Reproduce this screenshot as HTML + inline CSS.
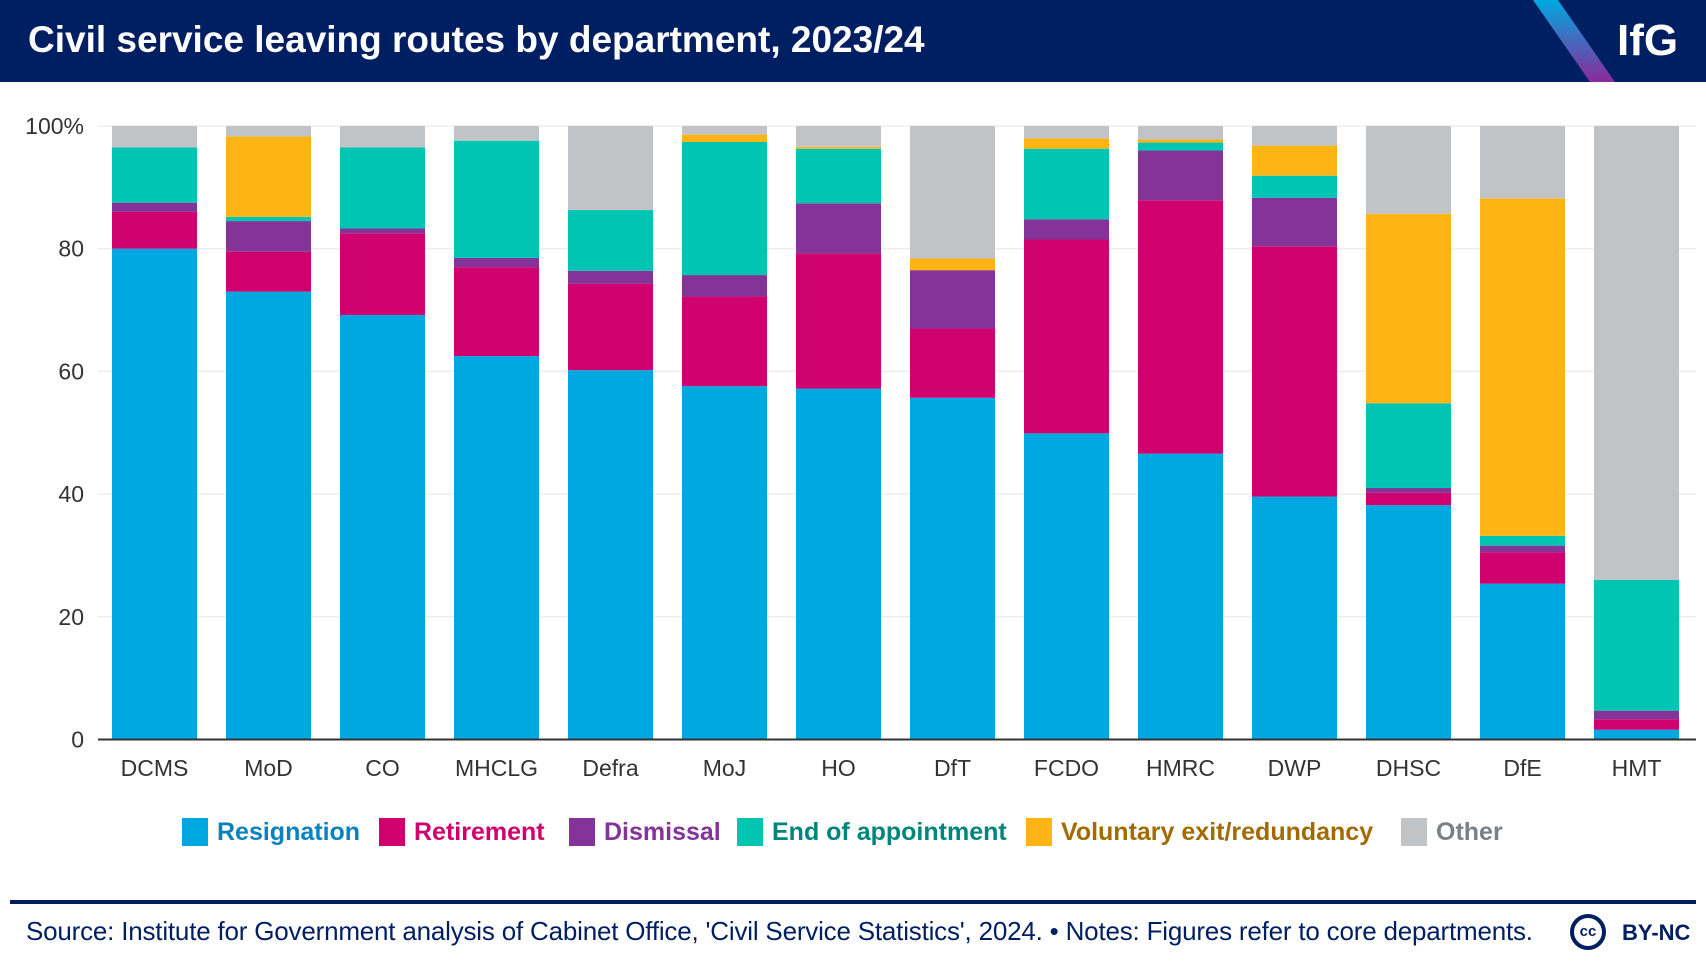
<!DOCTYPE html>
<html><head><meta charset="utf-8"><style>
body{margin:0;width:1706px;height:974px;background:#fff;font-family:"Liberation Sans",sans-serif;overflow:hidden;position:relative}
#hdr{position:absolute;left:0;top:0;width:1706px;height:82px;background:#001e62}
#title{position:absolute;left:28px;top:19px;color:#fff;font-size:37px;font-weight:bold;letter-spacing:0px}
#logo{position:absolute;left:1617px;top:16px;color:#fff;font-size:44px;font-weight:bold}
#foot-line{position:absolute;left:10px;top:900px;width:1686px;height:4px;background:#001e62}
#source{position:absolute;left:26px;top:916px;font-size:26px;color:#001e62;letter-spacing:-0.2px}
#cc{position:absolute;left:1570px;top:914px;width:36px;height:36px;border:4px solid #001e62;border-radius:50%;box-sizing:border-box;font-size:15px;font-weight:bold;color:#001e62;text-align:center;line-height:28px}
#bync{position:absolute;left:1622px;top:920px;font-size:22px;font-weight:bold;color:#001e62}
</style></head><body>
<div id="hdr">
<div id="title">Civil service leaving routes by department, 2023/24</div>
<svg width="1706" height="82" style="position:absolute;left:0;top:0">
<defs><linearGradient id="g" x1="0" y1="0" x2="0" y2="1"><stop offset="0" stop-color="#00a8e1"/><stop offset="1" stop-color="#8a2a9a"/></linearGradient></defs>
<polygon points="1533,0 1558,0 1615,82 1590,82" fill="url(#g)"/></svg>
<div id="logo">IfG</div>
</div>
<svg id="chart" width="1706" height="880" style="position:absolute;left:0;top:0"></svg>
<div id="foot-line"></div>
<div id="source">Source: Institute for Government analysis of Cabinet Office, 'Civil Service Statistics', 2024. • Notes: Figures refer to core departments.</div>
<div id="cc">cc</div>
<div id="bync">BY-NC</div>
<script>
const categories=["DCMS","MoD","CO","MHCLG","Defra","MoJ","HO","DfT","FCDO","HMRC","DWP","DHSC","DfE","HMT"];
const resignation=[80,73,69.2,62.5,60.2,57.6,57.2,55.7,49.9,46.6,39.6,38.2,25.4,1.6];
const retirement=[6,6.5,13.3,14.5,14.1,14.6,22,11.3,31.6,41.3,40.8,2,5.1,1.7];
const dismissal=[1.5,5,0.8,1.5,2.1,3.5,8.2,9.5,3.3,8.1,7.9,0.8,1.1,1.4];
const endOfAppointment=[9,0.7,13.2,19.1,9.9,21.7,8.9,0,11.5,1.3,3.6,13.8,1.6,21.3];
const voluntaryExit=[0,13.1,0,0,0,1.2,0.3,1.9,1.7,0.5,4.9,30.9,55,0];
const other=[3.5,1.7,3.5,2.4,13.7,1.4,3.4,21.6,2,2.2,3.2,14.3,11.8,74];
const yTicks=[0,20,40,60,80,100];
const seriesNames=["Resignation","Retirement","Dismissal","End of appointment","Voluntary exit/redundancy","Other"];
const series=[resignation,retirement,dismissal,endOfAppointment,voluntaryExit,other];
const colors=["#00a8e1","#d0006f","#843399","#00c5b3","#fdb414","#c1c4c7"];
const textColors=["#0a82c0","#d0006f","#843399","#00857a","#a36a00","#7a8085"];
const NS="http://www.w3.org/2000/svg";
const svg=document.getElementById('chart');
const y0=739.5,y100=126,xLeft=98,xRight=1696,step=114,bw=85,firstX=112;
const y=v=>y0-(v/100)*(y0-y100);
const x=i=>firstX+i*step;
function el(t,a){const e=document.createElementNS(NS,t);for(const k in a)e.setAttribute(k,a[k]);svg.appendChild(e);return e;}
yTicks.forEach(t=>{
 if(t>0){const g=el('line',{x1:xLeft,x2:xRight,y1:y(t),y2:y(t),stroke:'#eeeeee','stroke-width':1.5});
 
 }
 const tx=el('text',{x:84,y:y(t)+8,'text-anchor':'end','font-size':23,fill:'#333','font-family':'Liberation Sans, sans-serif'});
 tx.textContent=t===100?'100%':String(t);
 
 
});
categories.forEach((c,i)=>{
 let acc=0;
 series.forEach((s,k)=>{
  const v=s[i];if(v>0){
  const r=el('rect',{x:x(i),y:y(acc+v),width:bw,height:y(acc)-y(acc+v),fill:colors[k]});
  
  }
  acc+=v;
 });
 const t=el('text',{x:x(i)+bw/2,y:776,'text-anchor':'middle','font-size':23,fill:'#333','font-family':'Liberation Sans, sans-serif'});
 t.textContent=c;
 
 
});
const ax=el('line',{x1:xLeft,x2:xRight,y1:y0,y2:y0,stroke:'#333','stroke-width':2});


const legX=[182,379,569,737,1026,1401];
seriesNames.forEach((n,k)=>{
 const r=el('rect',{x:legX[k],y:818,width:26,height:28,fill:colors[k]});
 
 
 const t=el('text',{x:legX[k]+35,y:840,'font-size':25,'font-weight':'bold',fill:textColors[k],'font-family':'Liberation Sans, sans-serif'});
 t.textContent=n;
 
 
});
</script>
</body></html>
